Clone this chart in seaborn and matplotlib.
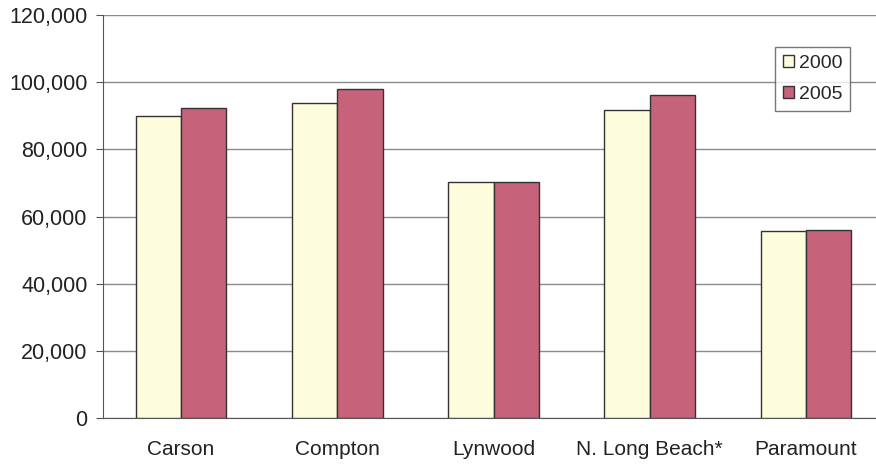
import matplotlib
matplotlib.use("Agg")
import matplotlib.pyplot as plt
import seaborn as sns
import pandas as pd
from matplotlib.ticker import FuncFormatter, MultipleLocator
from matplotlib.patches import Patch

cities = ["Carson", "Compton", "Lynwood", "N. Long Beach*", "Paramount"]
years = ["2000", "2005"]
pop_2000 = [89900, 93800, 70300, 91700, 55800]
pop_2005 = [92300, 98000, 70300, 96200, 56100]
colors = {"2000": "#FDFDDD", "2005": "#C6637A"}

df = pd.DataFrame({
    "city": cities * 2,
    "year": ["2000"] * len(cities) + ["2005"] * len(cities),
    "population": pop_2000 + pop_2005,
})

sns.set_style("white")
plt.rcParams["font.family"] = ["Liberation Sans", "DejaVu Sans"]

fig = plt.figure(figsize=(8.76, 4.66), dpi=100)
ax = fig.add_axes([103 / 876, 48 / 466, 781 / 876, 403 / 466])

sns.barplot(data=df, x="city", y="population", hue="year", order=cities,
            hue_order=years, palette=colors, saturation=1, width=0.58, ax=ax,
            edgecolor="#333333", linewidth=1.0, legend=False, zorder=3)

ax.set_ylim(0, 120000)
ax.set_xlim(-0.5, len(cities) - 0.5)
ax.yaxis.set_major_locator(MultipleLocator(20000))
ax.yaxis.set_major_formatter(FuncFormatter(lambda v, p: f"{int(v):,}"))
ax.grid(axis="y", color="#8a8a8a", linewidth=1.0, zorder=0)
ax.set_axisbelow(True)

for side in ["top", "right"]:
    ax.spines[side].set_visible(False)
ax.spines["left"].set_color("#555555")
ax.spines["bottom"].set_color("#555555")

# category-boundary ticks on the x axis, labels centred under each group
ax.set_xticks([i + 0.5 for i in range(len(cities) - 1)] + [-0.5], minor=False)
ax.set_xticklabels([])
ax.set_xticks(range(len(cities)), minor=True)
ax.set_xticklabels(cities, minor=True, fontsize=15, color="#222222")
ax.tick_params(axis="x", which="minor", length=0, pad=16)
ax.tick_params(axis="x", which="major", length=5, color="#555555", direction="out")
ax.tick_params(axis="y", length=5, color="#555555", direction="out",
               labelsize=15.5, labelcolor="#222222", pad=6, left=True)
ax.set_xlabel("")
ax.set_ylabel("")

handles = [Patch(facecolor=colors[y], edgecolor="#333333", label=y) for y in years]
leg = ax.legend(handles=handles, loc="upper left", bbox_to_anchor=(0.861, 0.92),
                frameon=True, fancybox=False, fontsize=14, handlelength=0.55,
                handleheight=0.55, handletextpad=0.25, borderpad=0.4,
                labelspacing=0.72, borderaxespad=0)
leg.get_frame().set_edgecolor("#555555")
leg.get_frame().set_linewidth(1.0)

fig.savefig("out.png", dpi=100)
